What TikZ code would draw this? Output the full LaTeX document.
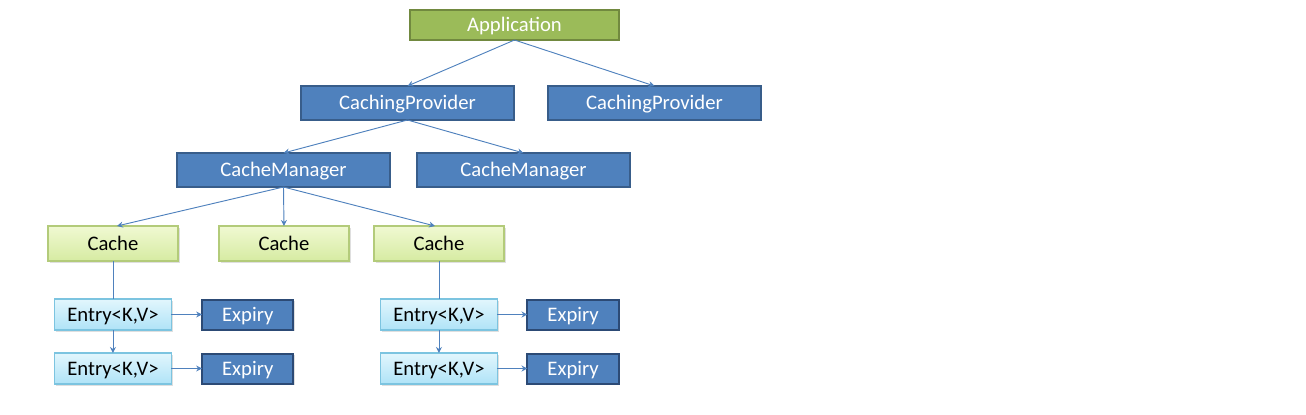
\documentclass[tikz,border=0pt]{standalone}
\usepackage{fontspec}
\setmainfont{Carlito}
\usetikzlibrary{positioning,arrows.meta,shadows}

\definecolor{boxblue}{HTML}{4F81BD}
\definecolor{boxblueline}{HTML}{385D8A}
\definecolor{boxgreen}{HTML}{9BBB59}
\definecolor{boxgreenline}{HTML}{71893F}
\definecolor{cachetop}{HTML}{F0F9D2}
\definecolor{cachebot}{HTML}{D6EBA2}
\definecolor{cacheline}{HTML}{B3CB7A}
\definecolor{entrytop}{HTML}{E2F6FD}
\definecolor{entrybot}{HTML}{AFE3F7}
\definecolor{entryline}{HTML}{7CC4E0}
\definecolor{expiryline}{HTML}{2C4A75}

\tikzset{
  every node/.style={font=\fontsize{15.5}{18}\selectfont, inner sep=0pt, outer sep=0pt,
    text height=10pt, text depth=0pt},
  softshadow/.style={drop shadow={shadow xshift=1.2pt, shadow yshift=-1.2pt, opacity=0.25}},
  appbox/.style={draw=boxgreenline, line width=1pt, fill=boxgreen, text=white,
    minimum width=156.75pt, minimum height=22.5pt},
  bluebox/.style={draw=boxblueline, line width=1pt, fill=boxblue, text=white,
    minimum width=159.75pt, minimum height=25.5pt},
  cachebox/.style={softshadow, draw=cacheline, line width=1pt, top color=cachetop,
    bottom color=cachebot, minimum width=97.5pt, minimum height=26.25pt},
  entrybox/.style={softshadow, draw=entryline, line width=1pt, top color=entrytop,
    bottom color=entrybot, minimum width=87.75pt, minimum height=23.25pt},
  expirybox/.style={softshadow, draw=expiryline, line width=1.5pt, fill=boxblue, text=white,
    minimum width=68.5pt, minimum height=22.5pt},
  link/.style={draw=boxblue, line width=0.7pt},
  arrow/.style={link, -{Stealth[length=4.5pt,width=4.5pt]}}
}

\begin{document}
\begin{tikzpicture}
  \useasboundingbox (0,0) rectangle (979.5pt,-310.5pt);

  \node(app) [appbox] at (385.875pt,-18.75pt) {Application};

  \node(prov1) [bluebox, below=34.5pt of app, xshift=-80.25pt] {CachingProvider};
  \node(prov2) [bluebox, right=25.5pt of prov1] {CachingProvider};

  \node(mgr1) [bluebox, below=24.75pt of prov1, xshift=-93pt] {CacheManager};
  \node(mgr2) [bluebox, right=20.25pt of mgr1] {CacheManager};

  \node(cache1) [cachebox, below=29.25pt of mgr1, xshift=-127.9pt] {Cache};
  \node(cache2) [cachebox, right=30.75pt of cache1] {Cache};
  \node(cache3) [cachebox, right=18.75pt of cache2] {Cache};

  \node(entry1) [entrybox, below=28.5pt of cache1] {Entry<K,V>};
  \node(entry2) [entrybox, below=17.25pt of entry1] {Entry<K,V>};
  \node(expiry1) [expirybox, right=23pt of entry1] {Expiry};
  \node(expiry2) [expirybox, right=23pt of entry2] {Expiry};

  \node(entry3) [entrybox, below=28.5pt of cache3] {Entry<K,V>};
  \node(entry4) [entrybox, below=17.25pt of entry3] {Entry<K,V>};
  \node(expiry3) [expirybox, right=22.5pt of entry3] {Expiry};
  \node(expiry4) [expirybox, right=22.5pt of entry4] {Expiry};

  \draw[arrow](app.south) -- (prov1.north);
  \draw[arrow](app.south) -- (prov2.north);
  \draw[arrow](prov1.south) -- (mgr1.north);
  \draw[arrow](prov1.south) -- (mgr2.north);
  \draw[arrow](mgr1.south) -- ([xshift=3pt]cache1.north);
  \draw[arrow](mgr1.south) -- (cache2.north);
  \draw[arrow](mgr1.south) -- ([xshift=-3pt]cache3.north);

  \draw[link](cache1) -- (entry1);
  \draw[arrow](entry1) -- (entry2);
  \draw[arrow](entry1) -- (expiry1);
  \draw[arrow](entry2) -- (expiry2);

  \draw[link](cache3) -- (entry3);
  \draw[arrow](entry3) -- (entry4);
  \draw[arrow](entry3) -- (expiry3);
  \draw[arrow](entry4) -- (expiry4);
\end{tikzpicture}
\end{document}
